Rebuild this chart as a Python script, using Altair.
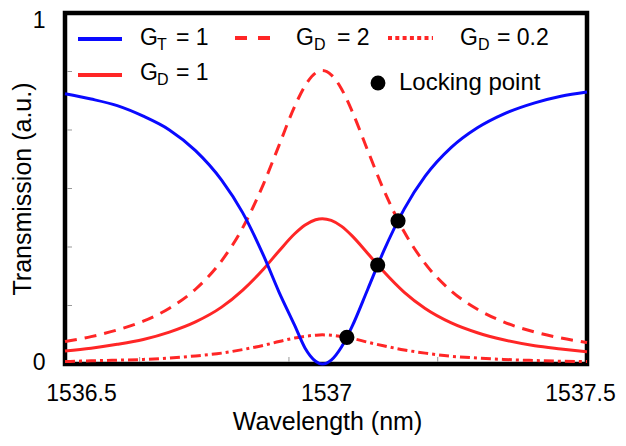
import altair as alt
import pandas as pd

# ---- data ----
wavelength = [1536.50, 1536.55, 1536.60, 1536.65, 1536.70, 1536.75, 1536.80, 1536.84,
              1536.88, 1536.91, 1536.94, 1536.96, 1536.98, 1536.993, 1537.01, 1537.03,
              1537.05, 1537.08, 1537.11, 1537.15, 1537.19, 1537.24, 1537.29, 1537.34,
              1537.40, 1537.45, 1537.50]
t_gt1 = [0.770, 0.755, 0.736, 0.706, 0.667, 0.608, 0.524, 0.432, 0.310, 0.205, 0.110,
         0.045, 0.008, 0.000, 0.011, 0.049, 0.107, 0.213, 0.320, 0.442, 0.535, 0.617,
         0.673, 0.712, 0.744, 0.763, 0.775]
t_gd1 = [0.037, 0.045, 0.056, 0.070, 0.091, 0.120, 0.162, 0.210, 0.270, 0.322, 0.371,
         0.396, 0.411, 0.414, 0.409, 0.392, 0.365, 0.315, 0.264, 0.204, 0.158, 0.117,
         0.089, 0.069, 0.052, 0.043, 0.035]
t_gd2 = [0.064, 0.078, 0.097, 0.122, 0.159, 0.213, 0.294, 0.387, 0.512, 0.623, 0.734,
         0.793, 0.829, 0.836, 0.824, 0.783, 0.720, 0.608, 0.498, 0.376, 0.286, 0.208,
         0.156, 0.120, 0.091, 0.074, 0.061]
t_gd02 = [0.007, 0.009, 0.011, 0.013, 0.017, 0.023, 0.031, 0.041, 0.053, 0.064, 0.074,
          0.079, 0.082, 0.083, 0.082, 0.078, 0.073, 0.062, 0.052, 0.040, 0.031, 0.022,
          0.017, 0.013, 0.010, 0.008, 0.007]

lock_wl = [1537.040, 1537.099, 1537.138]
lock_t = [0.076, 0.282, 0.408]

x_labels = [1536.5, 1537, 1537.5]
y_labels = [0, 1]
x_minor = [1536.643, 1536.929, 1537.214]
y_minor = [0.1667, 0.3333, 0.5, 0.6667, 0.8333]

BLUE = "#0a0aff"
RED = "#ff2626"
FONT = "Liberation Sans"

df = pd.DataFrame({"wl": wavelength, "gt": t_gt1, "gd1": t_gd1, "gd2": t_gd2, "gd02": t_gd02})
lock_df = pd.DataFrame({"wl": lock_wl, "t": lock_t})
xm_df = pd.DataFrame({"wl": x_minor})
ym_df = pd.DataFrame({"t": y_minor})
one = pd.DataFrame({"a": [0]})

xscale = alt.Scale(domain=[1536.5, 1537.5], nice=False, zero=False)
yscale = alt.Scale(domain=[0, 1], nice=False, zero=False)

xaxis = alt.Axis(
    values=x_labels, labelExpr="'' + datum.value", ticks=False, domain=False, grid=False,
    labelFont=FONT, labelFontSize=23, labelColor="black", labelPadding=18, labelFlush=False,
    labelOffset={"condition": [{"test": "datum.value == 1536.5", "value": 16},
                               {"test": "datum.value == 1537.5", "value": -7}], "value": 0},
    title="Wavelength (nm)", titleFont=FONT, titleFontSize=25, titleFontWeight="normal",
    titleColor="black", titleX=262, titleY=65, titleBaseline="alphabetic", titleAlign="center",
)
yaxis = alt.Axis(
    values=y_labels, labelExpr="'' + datum.value", ticks=False, domain=False, grid=False,
    labelFont=FONT, labelFontSize=23, labelColor="black", labelPadding=20, labelFlush=False,
    labelOffset={"condition": {"test": "datum.value == 1", "value": 7}, "value": -2},
    title="Transmission (a.u.)", titleFont=FONT, titleFontSize=25, titleFontWeight="normal",
    titleColor="black", titleX=-35, titleY=175.5, titleBaseline="alphabetic", titleAlign="center",
    titleAngle=270,
)

X = alt.X("wl:Q", scale=xscale, axis=xaxis)


def curve(field, color, dash=None):
    kw = dict(color=color, strokeWidth=3, interpolate="monotone")
    if dash:
        kw["strokeDash"] = dash
    return alt.Chart(df).mark_line(**kw).encode(
        x=X, y=alt.Y(f"{field}:Q", scale=yscale, axis=yaxis))


layers = [
    curve("gd02", RED, [10, 4, 3, 4]),
    curve("gd2", RED, [12, 8]),
    curve("gd1", RED),
    curve("gt", BLUE),
    alt.Chart(lock_df).mark_circle(size=230, color="black", opacity=1).encode(
        x=X, y=alt.Y("t:Q", scale=yscale, axis=yaxis)),
    alt.Chart(xm_df).mark_rule(color="#999999", strokeWidth=1).encode(
        x=X, y=alt.value(344), y2=alt.value(349)),
    alt.Chart(ym_df).mark_rule(color="#999999", strokeWidth=1).encode(
        y=alt.Y("t:Q", scale=yscale, axis=yaxis), x=alt.value(2), x2=alt.value(7)),
]

# ---- legend (inside the plot) ----
def lrule(x1, x2, y, color, dash=None):
    kw = dict(color=color, strokeWidth=4)
    if dash:
        kw["strokeDash"] = dash
    return alt.Chart(one).mark_rule(**kw).encode(
        x=alt.value(x1), x2=alt.value(x2), y=alt.value(y))


def ltext(s, x, y, size=23):
    return alt.Chart(one).mark_text(
        text=s, align="left", baseline="alphabetic", font=FONT, fontSize=size, color="black"
    ).encode(x=alt.value(x), y=alt.value(y))


legend = [
    lrule(13, 57, 26, BLUE),
    ltext("G", 75, 32), ltext("T", 92, 37, 16), ltext("= 1", 111, 32),
    lrule(13, 57, 62, RED),
    ltext("G", 75, 67), ltext("D", 92, 72, 16), ltext("= 1", 111, 67),
    lrule(170, 205, 25, RED, [12, 11]),
    ltext("G", 231, 32), ltext("D", 249, 37, 16), ltext("= 2", 272, 32),
    lrule(323, 368, 25, RED, [4, 3.3]),
    ltext("G", 395, 32), ltext("D", 413, 37, 16), ltext("= 0.2", 432, 32),
    alt.Chart(one).mark_circle(size=220, color="black", opacity=1).encode(
        x=alt.value(313), y=alt.value(70)),
    ltext("Locking point", 334, 77, 24),
]

chart = alt.layer(*layers, *legend).properties(
    width=522, height=351,
    autosize=alt.AutoSizeParams(type="none"),
    padding={"left": 57, "top": 5, "right": 31, "bottom": 74},
    background="white",
).configure_view(stroke="black", strokeWidth=4.5)

chart.save("out.html", embed_options={"renderer": "svg", "actions": False})
